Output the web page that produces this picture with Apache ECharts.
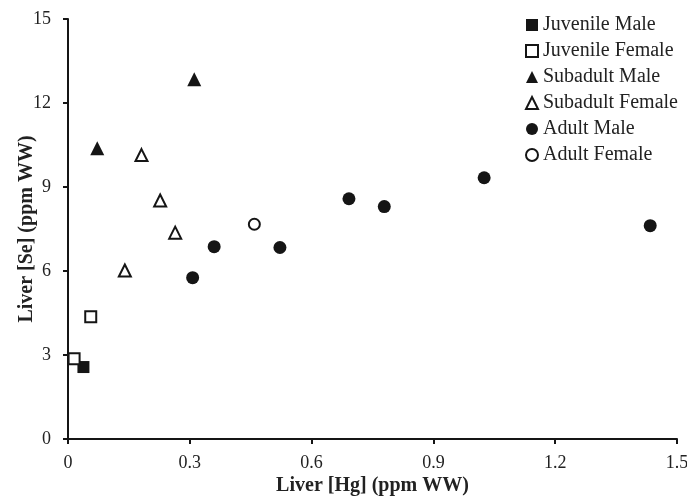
<!DOCTYPE html>
<html>
<head>
<meta charset="utf-8">
<script src="https://cdn.jsdelivr.net/npm/echarts@6/dist/echarts.min.js"></script>
<style>
  html, body { margin: 0; padding: 0; background: #fff; }
  #main { width: 687px; height: 499px; }
</style>
</head>
<body>
<div id="main"></div>
<script>
// Liver Hg (x) vs liver Se (y), ppm WW
var juvenileMale = [[0.038, 2.57]];
var juvenileFemale = [[0.015, 2.87], [0.056, 4.37]];
var subadultMale = [[0.072, 10.38], [0.311, 12.85]];
var subadultFemale = [[0.140, 6.02], [0.181, 10.14], [0.227, 8.52], [0.264, 7.37]];
var adultMale = [[0.307, 5.76], [0.360, 6.87], [0.522, 6.84], [0.692, 8.58], [0.779, 8.30], [1.025, 9.33], [1.434, 7.62]];
var adultFemale = [[0.459, 7.67]];

var xTicks = [0, 0.3, 0.6, 0.9, 1.2, 1.5];
var yTicks = [0, 3, 6, 9, 12, 15];

var serif = '"Liberation Serif", "DejaVu Serif", serif';
var ink = '#151515';

function filled(name, symbol, data, size) {
  return {
    name: name, type: 'scatter', symbol: symbol, symbolSize: size, data: data,
    itemStyle: { color: ink, borderWidth: 0, opacity: 1 }
  };
}
function hollow(name, symbol, data, size) {
  return {
    name: name, type: 'scatter', symbol: symbol, symbolSize: size, data: data,
    itemStyle: { color: '#fff', borderColor: ink, borderWidth: 2, opacity: 1 }
  };
}

var chart = echarts.init(document.getElementById('main'));
chart.setOption({
  animation: false,
  backgroundColor: '#fff',
  grid: { left: 68, right: 10, top: 19, bottom: 60, outerBoundsMode: 'none' },
  legend: {
    orient: 'vertical',
    left: 525, top: 15, padding: 0,
    itemWidth: 12, itemHeight: 12, itemGap: 6,
    textStyle: { fontFamily: serif, fontSize: 20, color: '#222', lineHeight: 20 },
    data: ['Juvenile Male', 'Juvenile Female', 'Subadult Male', 'Subadult Female', 'Adult Male', 'Adult Female']
  },
  xAxis: {
    type: 'value', min: 0, max: 1.5, interval: 0.3,
    name: 'Liver [Hg] (ppm WW)', nameLocation: 'middle', nameGap: 37, nameMoveOverlap: false,
    nameTextStyle: { fontFamily: serif, fontSize: 20, fontWeight: 'bold', color: '#222' },
    axisLine: { lineStyle: { color: ink, width: 2 } },
    axisTick: { show: true, length: 5, lineStyle: { color: ink, width: 2 } },
    axisLabel: {
      fontFamily: serif, fontSize: 18, color: '#222', margin: 15,
      formatter: function (v) { return xTicks.indexOf(+v.toFixed(1)) >= 0 ? String(+v.toFixed(1)) : ''; }
    },
    splitLine: { show: false }
  },
  yAxis: {
    type: 'value', min: 0, max: 15, interval: 3,
    name: 'Liver [Se] (ppm WW)', nameLocation: 'middle', nameGap: 31, nameMoveOverlap: false,
    nameTextStyle: { fontFamily: serif, fontSize: 20, fontWeight: 'bold', color: '#222' },
    axisLine: { show: true, lineStyle: { color: ink, width: 2 } },
    axisTick: { show: true, length: 5, lineStyle: { color: ink, width: 2 } },
    axisLabel: {
      fontFamily: serif, fontSize: 18, color: '#222', margin: 17,
      formatter: function (v) { return yTicks.indexOf(v) >= 0 ? String(v) : ''; }
    },
    splitLine: { show: false }
  },
  series: [
    filled('Juvenile Male', 'rect', juvenileMale, 12),
    hollow('Juvenile Female', 'rect', juvenileFemale, 11),
    filled('Subadult Male', 'triangle', subadultMale, 14),
    hollow('Subadult Female', 'triangle', subadultFemale, 12),
    filled('Adult Male', 'circle', adultMale, 13),
    hollow('Adult Female', 'circle', adultFemale, 11)
  ]
});
</script>
</body>
</html>
